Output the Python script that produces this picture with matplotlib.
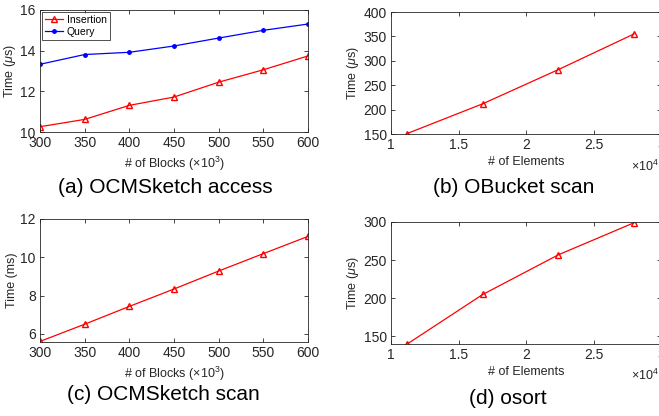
import numpy as np
import matplotlib
matplotlib.use('Agg')
import matplotlib.pyplot as plt

plt.rcParams['font.family'] = ['Liberation Sans', 'DejaVu Sans']
plt.rcParams['mathtext.fontset'] = 'custom'
plt.rcParams['mathtext.rm'] = 'Liberation Sans'
plt.rcParams['mathtext.it'] = 'Liberation Sans:italic'

# data
blocks = [300, 350, 400, 450, 500, 550, 600]  # x10^3
access_insert = [10.26, 10.62, 11.31, 11.72, 12.45, 13.06, 13.74]
access_query = [13.33, 13.81, 13.92, 14.23, 14.62, 15.0, 15.31]
sketch_scan = [5.6, 6.5, 7.43, 8.34, 9.28, 10.19, 11.09]
elements = [11200, 16800, 22400, 28000]
bucket_scan = [151, 212, 282, 355]
osort_time = [140, 205, 257, 299]

W, H = 659, 416
fig = plt.figure(figsize=(W / 100, H / 100), dpi=100)

tick_col = '#262626'
lab_size = 9
cap_size = 15


def add_ax(x0, y0, x1, y1):
    # pixel box -> figure fraction
    ax = fig.add_axes([x0 / W, 1 - y1 / H, (x1 - x0) / W, (y1 - y0) / H])
    ax.tick_params(direction='in', top=True, right=True, labelsize=10,
                   colors=tick_col, length=3, width=0.6, pad=3)
    for s in ax.spines.values():
        s.set_linewidth(0.6)
        s.set_color(tick_col)
    return ax


def caption(x, y, s):
    fig.text(x / W, 1 - y / H, s, ha='center', va='center', fontsize=cap_size)


# (a)
ax = add_ax(40, 10, 308, 132)
ax.plot(blocks, access_insert, color='red', marker='^', ms=4, mfc='none', lw=0.9, label='Insertion')
ax.plot(blocks, access_query, color='blue', marker='.', ms=5, lw=0.9, label='Query')
ax.set_xlim(300, 600)
ax.set_ylim(10, 16)
ax.set_yticks([10, 12, 14, 16])
ax.set_xlabel(r'# of Blocks ($\times 10^3$)', fontsize=lab_size, color=tick_col, labelpad=3)
ax.set_ylabel(r'Time ($\mu$s)', fontsize=lab_size, color=tick_col, labelpad=2)
leg = ax.legend(loc='upper left', fontsize=7.5, frameon=True, fancybox=False,
                edgecolor='black', borderpad=0.3, handlelength=1.8, handletextpad=0.3,
                labelspacing=0.2, borderaxespad=0.15)
leg.get_frame().set_linewidth(0.6)
caption(165, 187, '(a) OCMSketch access')

# (b)
ax = add_ax(391, 12, 661, 134)
ax.plot(elements, bucket_scan, color='red', marker='^', ms=4, mfc='none', lw=0.9)
ax.set_xlim(10000, 30000)
ax.set_ylim(150, 400)
ax.set_yticks([150, 200, 250, 300, 350, 400])
ax.set_xticks([10000, 15000, 20000, 25000, 30000])
ax.set_xticklabels(['1', '1.5', '2', '2.5', '3'])
ax.set_xlabel('# of Elements', fontsize=lab_size, color=tick_col, labelpad=3)
ax.set_ylabel(r'Time ($\mu$s)', fontsize=lab_size, color=tick_col, labelpad=2)
fig.text(631 / W, 1 - 166 / H, r'$\times 10^4$', fontsize=lab_size, color=tick_col, ha='left', va='center')
caption(514, 187, '(b) OBucket scan')

# (c)
ax = add_ax(40, 219, 308, 342)
ax.plot(blocks, sketch_scan, color='red', marker='^', ms=4, mfc='none', lw=0.9)
ax.set_xlim(300, 600)
ax.set_ylim(5.57, 12)
ax.set_yticks([6, 8, 10, 12])
ax.set_xlabel(r'# of Blocks ($\times 10^3$)', fontsize=lab_size, color=tick_col, labelpad=3)
ax.set_ylabel('Time (ms)', fontsize=lab_size, color=tick_col, labelpad=2)
caption(163, 395, '(c) OCMSketch scan')

# (d)
ax = add_ax(391, 222, 661, 344)
ax.plot(elements, osort_time, color='red', marker='^', ms=4, mfc='none', lw=0.9)
ax.set_xlim(10000, 30000)
ax.set_ylim(140, 300)
ax.set_yticks([150, 200, 250, 300])
ax.set_xticks([10000, 15000, 20000, 25000, 30000])
ax.set_xticklabels(['1', '1.5', '2', '2.5', '3'])
ax.set_xlabel('# of Elements', fontsize=lab_size, color=tick_col, labelpad=3)
ax.set_ylabel(r'Time ($\mu$s)', fontsize=lab_size, color=tick_col, labelpad=2)
fig.text(631 / W, 1 - 375 / H, r'$\times 10^4$', fontsize=lab_size, color=tick_col, ha='left', va='center')
caption(508, 399, '(d) osort')

fig.savefig('out.png', dpi=100)
